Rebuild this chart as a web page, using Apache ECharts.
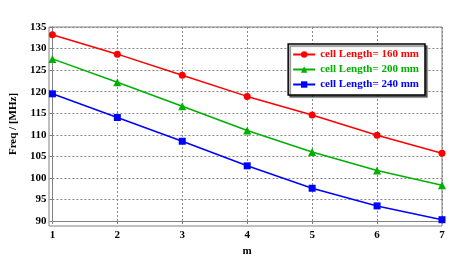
<!DOCTYPE html>
<html><head><meta charset="utf-8">
<script src="https://cdn.jsdelivr.net/npm/echarts@6/dist/echarts.min.js"></script>
<style>html,body{margin:0;padding:0;background:#fff}#c{width:463px;height:262px}</style>
</head><body><div id="c"></div>
<script>
const mValues = [1, 2, 3, 4, 5, 6, 7];
const seriesNames = ['cell Length= 160 mm', 'cell Length= 200 mm', 'cell Length= 240 mm'];
const freq160 = [133.2, 128.7, 123.8, 118.9, 114.6, 109.9, 105.7];
const freq200 = [127.6, 122.2, 116.6, 111.0, 106.0, 101.7, 98.3];
const freq240 = [119.5, 114.0, 108.5, 102.8, 97.6, 93.5, 90.3];
const colors = ['#ff0000', '#00b000', '#0000ff'];
const symbols = ['circle', 'triangle', 'rect'];
const symbolSizes = [7, 8, 7];
const allData = [freq160, freq200, freq240];

const font = 'Liberation Serif';
const chart = echarts.init(document.getElementById('c'));
chart.setOption({
  animation: false,
  backgroundColor: '#fff',
  grid: {left: 49, right: 21, top: 27, bottom: 36},
  legend: {
    right: 38, top: 44,
    orient: 'vertical',
    backgroundColor: '#fff',
    borderColor: '#000', borderWidth: 1.5,
    shadowColor: 'rgba(0,0,0,0.5)', shadowOffsetX: 2, shadowOffsetY: 2, shadowBlur: 1,
    padding: [5, 6, 5, 4],
    itemGap: 4, itemWidth: 22, itemHeight: 8,
    data: seriesNames.map((n, i) => ({name: n, textStyle: {color: colors[i]}})),
    textStyle: {fontFamily: font, fontWeight: 'bold', fontSize: 11}
  },
  xAxis: {
    type: 'value', min: 1, max: 7, interval: 1,
    name: 'm', nameLocation: 'middle', nameGap: 25,
    nameTextStyle: {fontFamily: font, fontWeight: 'bold', fontSize: 11, color: '#000'},
    axisLine: {lineStyle: {color: '#808080', width: 1}},
    axisTick: {show: true, length: 3, lineStyle: {color: '#808080'}},
    axisLabel: {fontFamily: font, fontWeight: 'bold', fontSize: 11, color: '#000', margin: 9},
    splitLine: {show: true, lineStyle: {color: '#888', type: [2, 2], width: 1}}
  },
  yAxis: {
    type: 'value', min: 90, max: 135, interval: 5,
    name: 'Freq / [MHz]', nameLocation: 'middle', nameGap: 33, nameRotate: 90,
    nameTextStyle: {fontFamily: font, fontWeight: 'bold', fontSize: 11, color: '#000'},
    axisLine: {show: true, lineStyle: {color: '#808080', width: 1}},
    axisTick: {show: true, length: 3, lineStyle: {color: '#808080'}},
    axisLabel: {fontFamily: font, fontWeight: 'bold', fontSize: 11, color: '#000', margin: 6},
    splitLine: {show: true, lineStyle: {color: '#888', type: [2, 2], width: 1}}
  },
  series: seriesNames.map((n, i) => ({
    name: n, type: 'line',
    data: mValues.map((m, j) => [m, allData[i][j]]),
    symbol: symbols[i], symbolSize: symbolSizes[i], showSymbol: true,
    lineStyle: {color: colors[i], width: 1.5},
    itemStyle: {color: colors[i]}
  }))
});
chart.getZr().add(new echarts.graphic.Rect({
  shape: {x: 49, y: 27, width: 393, height: 199},
  style: {fill: 'none', stroke: '#808080', lineWidth: 1}, z: 0
}));
</script></body></html>
